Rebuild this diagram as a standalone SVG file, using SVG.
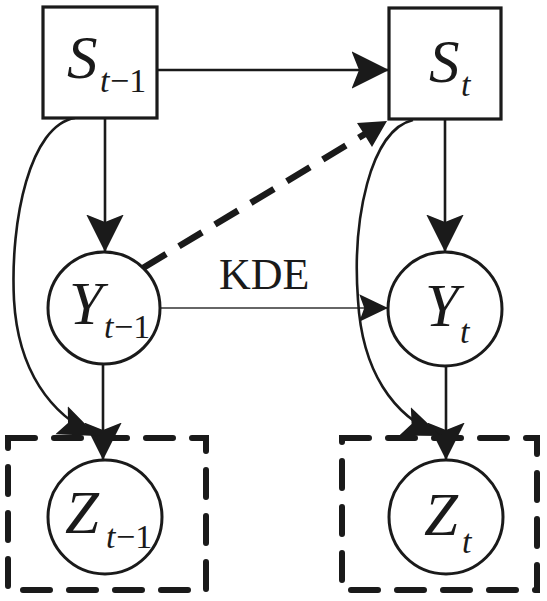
<svg xmlns="http://www.w3.org/2000/svg" width="547" height="601" viewBox="0 0 547 601">
<defs>
<style>
.box{fill:#fff;stroke:#1a1a1a;stroke-width:3.2}
.circ{fill:#fff;stroke:#1a1a1a;stroke-width:3}
.dbox{fill:none;stroke:#1a1a1a;stroke-width:6;stroke-dasharray:27 19;stroke-linecap:round}
.edge{fill:none;stroke:#1a1a1a;stroke-width:2.6}
.thin{fill:none;stroke:#333;stroke-width:1.3}
.dash{fill:none;stroke:#1a1a1a;stroke-width:6.5;stroke-dasharray:27 15}
.v{font-family:'Liberation Serif','Times New Roman',serif;font-style:italic;font-size:61px;fill:#1a1a1a}
.si{font-style:italic;font-size:34px}
.sr{font-style:normal;font-size:34px}
.lbl{font-family:'Liberation Serif','Times New Roman',serif;font-size:44px;fill:#1a1a1a}
</style>
<marker id="ah" markerUnits="userSpaceOnUse" markerWidth="40" markerHeight="40" viewBox="0 0 32 32" refX="30" refY="16" orient="auto">
<path d="M0,1 L30,16 L0,31 L6,16 Z" fill="#1a1a1a"/>
</marker>
<marker id="ahs" markerUnits="userSpaceOnUse" markerWidth="30" markerHeight="30" viewBox="0 0 24 24" refX="23" refY="12" orient="auto">
<path d="M0,1 L23,12 L0,23 L4,12 Z" fill="#1a1a1a"/>
</marker>
<marker id="ahc" markerUnits="userSpaceOnUse" markerWidth="40" markerHeight="40" viewBox="0 0 34 30" refX="33" refY="15" orient="auto">
<path d="M0,2 L33,15 L0,28 L6,15 Z" fill="#1a1a1a"/>
</marker>
</defs>
<rect width="547" height="601" fill="#fff"/>

<g id="connectors">
<line class="edge" x1="157" y1="70" x2="389" y2="70" marker-end="url(#ah)"/>
<line class="edge" x1="105" y1="118" x2="105" y2="252" marker-end="url(#ah)"/>
<line class="edge" x1="445" y1="119" x2="445" y2="252" marker-end="url(#ah)"/>
<line class="edge" x1="103" y1="364" x2="103" y2="460" marker-end="url(#ah)"/>
<line class="edge" x1="446" y1="366" x2="446" y2="460" marker-end="url(#ah)"/>
<line class="thin" x1="160" y1="308" x2="388" y2="308" marker-end="url(#ahs)"/>
<path class="edge" d="M75,118 C30,125 10,220 14,300 C18,370 50,415 97,436" marker-end="url(#ahc)"/>
<path class="edge" d="M413,120 C370,130 352,220 358,300 C362,370 392,416 441,436" marker-end="url(#ahc)"/>
<line class="dash" x1="143" y1="268" x2="365" y2="134"/>
<path d="M387,121 L357,123 L364,134 L372,147 Z" fill="#1a1a1a"/>
</g>

<g id="node-s-prev">
<rect class="box" x="43" y="7" width="114" height="111"/>
<text class="v" x="67" y="78">S<tspan class="si" x="100" y="92">t</tspan><tspan class="sr" x="110" y="92">−1</tspan></text>
</g>
<g id="node-s">
<rect class="box" x="389" y="8" width="112" height="111"/>
<text class="v" x="429" y="82">S<tspan class="si" x="461" y="96">t</tspan></text>
</g>
<g id="node-y-prev">
<circle class="circ" cx="104" cy="308" r="56"/>
<text class="v" x="69" y="324">Y<tspan class="si" x="104" y="338">t</tspan><tspan class="sr" x="114" y="338">−1</tspan></text>
</g>
<g id="node-y">
<circle class="circ" cx="445" cy="309" r="57"/>
<text class="v" x="425" y="326">Y<tspan class="si" x="460" y="343">t</tspan></text>
</g>
<g id="node-z-prev">
<path class="dbox" d="M8,438 H206 V590 H8 Z"/>
<circle class="circ" cx="105" cy="517" r="57"/>
<text class="v" x="65" y="533">Z<tspan class="si" x="106" y="548">t</tspan><tspan class="sr" x="116" y="548">−1</tspan></text>
</g>
<g id="node-z">
<path class="dbox" d="M342,438 H537 V590 H342 Z"/>
<circle class="circ" cx="446" cy="517" r="57"/>
<text class="v" x="424" y="535">Z<tspan class="si" x="462" y="553">t</tspan></text>
</g>
<text class="lbl" x="219" y="289">KDE</text>
</svg>
